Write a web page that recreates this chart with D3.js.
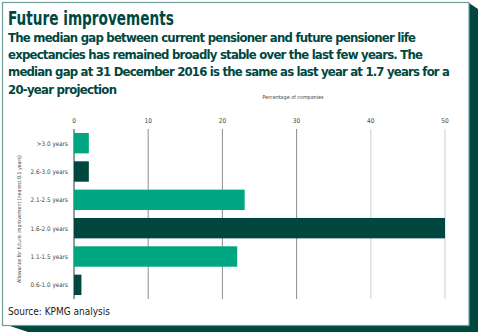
<!DOCTYPE html>
<html><head><meta charset="utf-8">
<script src="https://cdn.jsdelivr.net/npm/d3@7"></script>
<style>body{margin:0;background:#fff}svg{display:block}</style>
</head><body>
<svg id="c" width="480" height="332"></svg>
<script>
const categories = [">3.0 years","2.6-3.0 years","2.1-2.5 years","1.6-2.0 years","1.1-1.5 years","0.6-1.0 years"];
const values = [2, 2, 23, 50, 22, 1];
const barColors = ["#00a582","#00483f","#00a582","#00483f","#00a582","#00483f"];
const xTicks = [0,10,20,30,40,50];
const title = "Future improvements";
const subtitleLines = [
 "The median gap between current pensioner and future pensioner life",
 "expectancies has remained broadly stable over the last few years. The",
 "median gap at 31 December 2016 is the same as last year at 1.7 years for a",
 "20-year projection"];
const subtitleWidths = [408, 415, 442, 109];
const xTitle = "Percentage of companies";
const yTitle = "Allowance for future improvement (nearest 0.1 years)";
const source = "Source: KPMG analysis";

const svg = d3.select("#c");
const dark = "#00483f";
svg.append("polygon").attr("points","469,3 478,9 478,332 28,332 10,326 469,326").attr("fill",dark);
svg.append("rect").attr("x",2.5).attr("y",2.5).attr("width",466.5).attr("height",323)
  .attr("fill","#fff").attr("stroke","#6f9f98").attr("stroke-width",1.2);

const font = "'DejaVu Sans Condensed','DejaVu Sans',sans-serif";
function fitSpacing(t, target){
  const n = t.text().length;
  const w = t.node().getComputedTextLength();
  t.attr("letter-spacing", ((target - w) / Math.max(1,n-1)).toFixed(3));
}
function fitSize(t, target){
  const fs = +t.attr("font-size");
  const w = t.node().getComputedTextLength();
  t.attr("font-size", (fs * target / w).toFixed(2));
}
const tt = svg.append("text").attr("x",0).attr("y",0).text(title)
  .attr("font-family",font).attr("font-weight","bold").attr("font-size",19.5)
  .attr("fill",dark);
const tw = tt.node().getComputedTextLength();
tt.attr("transform",`translate(8,25) scale(${(166/tw).toFixed(4)},1)`);
subtitleLines.forEach((l,i)=>{
  const t = svg.append("text").attr("x",8).attr("y",42+i*17.2).text(l)
   .attr("font-family",font).attr("font-weight","bold").attr("font-size",13)
   .attr("fill",dark);
  fitSpacing(t, subtitleWidths[i]);
});

const x = d3.scaleLinear().domain([0,50]).range([74,445]);
const y = d3.scaleBand().domain(categories).range([129,299]).paddingInner(0.28).paddingOuter(0.14);

const smallFont = "'DejaVu Sans Condensed',sans-serif";
const gridColor = d => d===0 ? "#555" : (d<=30 ? "#8d8d8d" : "#cfcfcf");
svg.append("g").selectAll("line").data(xTicks).join("line")
  .attr("x1",d=>x(d)).attr("x2",d=>x(d)).attr("y1",129).attr("y2",299)
  .attr("stroke",gridColor).attr("stroke-width",d=>d===0?1.2:1);
svg.append("g").selectAll("text").data(xTicks).join("text")
  .attr("x",d=>x(d)).attr("y",123).attr("text-anchor","middle").text(d=>d)
  .attr("font-family",smallFont).attr("font-size",6.5).attr("fill","#444");
const xt = svg.append("text").attr("x",293).attr("y",99).attr("text-anchor","middle").text(xTitle)
  .attr("font-family",smallFont).attr("font-size",6.5).attr("fill","#444");
fitSize(xt,61);

svg.append("g").selectAll("rect").data(values).join("rect")
  .attr("x",x(0)).attr("y",(d,i)=>y(categories[i])).attr("height",y.bandwidth())
  .attr("width",d=>x(d)-x(0)).attr("fill",(d,i)=>barColors[i]);

svg.append("g").selectAll("text").data(categories).join("text")
  .attr("x",68).attr("y",d=>y(d)+y.bandwidth()/2+2.5).attr("text-anchor","end").text(d=>d)
  .attr("font-family",smallFont).attr("font-size",6.3).attr("fill","#444");
const yt = svg.append("text").attr("transform","translate(21,219) rotate(-90)").attr("text-anchor","middle").text(yTitle)
  .attr("font-family",smallFont).attr("font-size",6.5).attr("fill","#444");
fitSize(yt,128);

const st = svg.append("text").attr("x",8).attr("y",315).text(source)
  .attr("font-family",font).attr("font-size",11.5).attr("fill","#222");
fitSize(st,102);
</script>
</body></html>
